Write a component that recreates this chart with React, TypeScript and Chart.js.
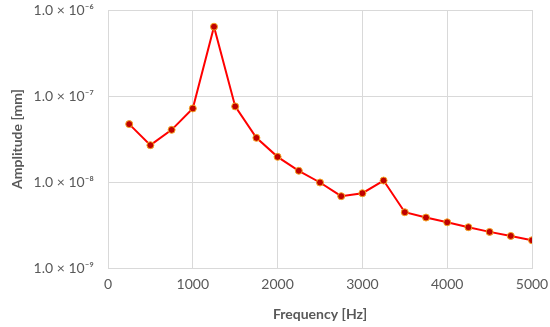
import React, { useEffect, useRef } from "react";
import { Chart, registerables } from "chart.js";

Chart.register(...registerables);

const frequencies = [250, 500, 750, 1000, 1250, 1500, 1750, 2000, 2250, 2500, 2750, 3000, 3250, 3500, 3750, 4000, 4250, 4500, 4750, 5000];
const amplitudes = [4.71e-8, 2.68e-8, 4.04e-8, 7.17e-8, 6.39e-7, 7.57e-8, 3.26e-8, 1.96e-8, 1.35e-8, 9.87e-9, 6.84e-9, 7.41e-9, 1.04e-8, 4.45e-9, 3.86e-9, 3.4e-9, 2.98e-9, 2.63e-9, 2.36e-9, 2.1e-9];
const xTickValues = [0, 1000, 2000, 3000, 4000, 5000];
const yTickValues = [1e-9, 1e-8, 1e-7, 1e-6];
const yTickLabels = ["1.0 × 10⁻⁹", "1.0 × 10⁻⁸", "1.0 × 10⁻⁷", "1.0 × 10⁻⁶"];
const xTitle = "Frequency [Hz]";
const yTitle = "Amplitude [mm]";

export default function App() {
  const ref = useRef<HTMLCanvasElement | null>(null);
  useEffect(() => {
    document.body.style.margin = "0";
    const ctx = ref.current!;
    const font = "Lato, 'Open Sans', sans-serif";
    const chart = new Chart(ctx, {
      type: "line",
      data: {
        datasets: [
          {
            data: frequencies.map((f, i) => ({ x: f, y: amplitudes[i] })),
            borderColor: "#ff0000",
            borderWidth: 2,
            backgroundColor: "#c00000",
            pointBackgroundColor: "#c00000",
            pointBorderColor: "#f5a623",
            pointBorderWidth: 1,
            pointRadius: 3.5,
            tension: 0,
          },
        ],
      },
      options: {
        responsive: false,
        animation: false,
        events: [],
        layout: { padding: { top: 10, right: 18, left: 0, bottom: 0 } },
        plugins: { legend: { display: false }, tooltip: { enabled: false } },
        scales: {
          x: {
            type: "linear",
            min: 0,
            max: 5000,
            afterBuildTicks: (s: any) => { s.ticks = xTickValues.map((v) => ({ value: v })); },
            ticks: { color: "#595959", font: { family: font, size: 14 }, padding: 8, maxRotation: 0, callback: (v: any) => String(v) },
            grid: { color: "#d9d9d9", drawTicks: false },
            border: { color: "#d9d9d9" },
            title: { display: true, text: xTitle, color: "#595959", font: { family: font, size: 14, weight: "bold" }, padding: { top: 8, bottom: 4 } },
            afterFit: (s: any) => { s.height = 59; s.paddingLeft = 0; s.paddingRight = 0; },
          },
          y: {
            type: "logarithmic",
            min: 1e-9,
            max: 1e-6,
            afterBuildTicks: (s: any) => { s.ticks = yTickValues.map((v) => ({ value: v })); },
            ticks: {
              color: "#595959",
              font: { family: font, size: 14 },
              padding: 14,
              callback: (v: any) => {
                const i = yTickValues.findIndex((t) => Math.abs(Math.log10(t) - Math.log10(v)) < 1e-6);
                return i >= 0 ? yTickLabels[i] : "";
              },
            },
            grid: { color: "#d9d9d9", drawTicks: false },
            border: { color: "#d9d9d9" },
            title: { display: true, text: yTitle, color: "#595959", font: { family: font, size: 14, weight: "bold" }, padding: { top: 9, bottom: 4 } },
            afterFit: (s: any) => { s.width = 108; s.paddingTop = 0; s.paddingBottom = 0; },
          },
        },
      },
    });
    return () => chart.destroy();
  }, []);
  return <canvas ref={ref} width={550} height={327} style={{ display: "block" }} />;
}
